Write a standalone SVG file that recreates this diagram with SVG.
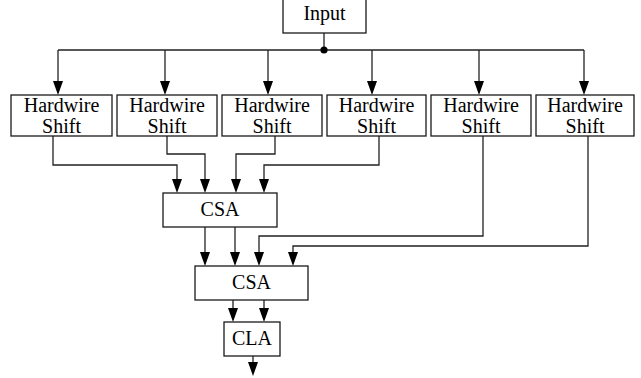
<svg xmlns="http://www.w3.org/2000/svg" width="641" height="378" viewBox="0 0 641 378">
  <style>
    .box { fill: #fff; stroke: #1a1a1a; stroke-width: 1.3; }
    .lbl { font-family: "Liberation Serif", "Times New Roman", serif; font-size: 20px; fill: #000; text-anchor: middle; }
    .wire { fill: none; stroke: #222; stroke-width: 1.3; }
    .arr { marker-end: url(#head); }
  </style>
  <defs>
    <marker id="head" markerUnits="userSpaceOnUse" markerWidth="12" markerHeight="16" viewBox="0 0 12 16" refX="6" refY="15" orient="auto-start-reverse">
      <path d="M1,1 L11,1 L6,15 Z" fill="#000" transform="rotate(0)"/>
    </marker>
  </defs>
  <rect width="641" height="378" fill="#fff"/>

  <!-- connectors -->
  <g id="connectors">
    <!-- input fan-out bus -->
    <path class="wire" d="M324,33 V50 M58,50 H584"/>
    <circle cx="324" cy="50" r="3.6" fill="#000"/>
    <path class="wire" d="M58,50 V81"/>
    <path class="wire" d="M165,50 V81"/>
    <path class="wire" d="M268,50 V81"/>
    <path class="wire" d="M372,50 V81"/>
    <path class="wire" d="M479,50 V81"/>
    <path class="wire" d="M584,50 V81"/>
    <path d="M53,81 L63,81 L58,95 Z M160,81 L170,81 L165,95 Z M263,81 L273,81 L268,95 Z M367,81 L377,81 L372,95 Z M474,81 L484,81 L479,95 Z M579,81 L589,81 L584,95 Z" fill="#000"/>

    <!-- shifters into first CSA -->
    <path class="wire" d="M53,136 V165 H177 V179"/>
    <path class="wire" d="M167,136 V154 H205 V179"/>
    <path class="wire" d="M275,136 V154 H236 V179"/>
    <path class="wire" d="M379,136 V165 H264 V179"/>
    <path d="M172,179 L182,179 L177,193 Z M200,179 L210,179 L205,193 Z M231,179 L241,179 L236,193 Z M259,179 L269,179 L264,193 Z" fill="#000"/>

    <!-- into second CSA -->
    <path class="wire" d="M205,227 V252"/>
    <path class="wire" d="M235,227 V252"/>
    <path class="wire" d="M483,136 V236 H259 V252"/>
    <path class="wire" d="M588,136 V246 H293 V252"/>
    <path d="M200,252 L210,252 L205,266 Z M230,252 L240,252 L235,266 Z M254,252 L264,252 L259,266 Z M288,252 L298,252 L293,266 Z" fill="#000"/>

    <!-- into CLA -->
    <path class="wire" d="M233,300 V308"/>
    <path class="wire" d="M264,300 V308"/>
    <path d="M228,308 L238,308 L233,322 Z M259,308 L269,308 L264,322 Z" fill="#000"/>

    <!-- result -->
    <path class="wire" d="M253,356 V363"/>
    <path d="M248,362 L258,362 L253,376 Z" fill="#000"/>
  </g>

  <g id="input">
    <rect class="box" x="283" y="-5" width="83" height="38"/>
    <text class="lbl" x="324.5" y="20">Input</text>
  </g>

  <g id="shift1">
    <rect class="box" x="11" y="95" width="101" height="41"/>
    <text class="lbl" x="61.5" y="112">Hardwire</text>
    <text class="lbl" x="61.5" y="133">Shift</text>
  </g>
  <g id="shift2">
    <rect class="box" x="117" y="95" width="100" height="41"/>
    <text class="lbl" x="167" y="112">Hardwire</text>
    <text class="lbl" x="167" y="133">Shift</text>
  </g>
  <g id="shift3">
    <rect class="box" x="222" y="95" width="100" height="41"/>
    <text class="lbl" x="272" y="112">Hardwire</text>
    <text class="lbl" x="272" y="133">Shift</text>
  </g>
  <g id="shift4">
    <rect class="box" x="327" y="95" width="99" height="41"/>
    <text class="lbl" x="376.5" y="112">Hardwire</text>
    <text class="lbl" x="376.5" y="133">Shift</text>
  </g>
  <g id="shift5">
    <rect class="box" x="431" y="95" width="100" height="41"/>
    <text class="lbl" x="481" y="112">Hardwire</text>
    <text class="lbl" x="481" y="133">Shift</text>
  </g>
  <g id="shift6">
    <rect class="box" x="536" y="95" width="98" height="41"/>
    <text class="lbl" x="585" y="112">Hardwire</text>
    <text class="lbl" x="585" y="133">Shift</text>
  </g>

  <g id="csa1">
    <rect class="box" x="163" y="193" width="114" height="34"/>
    <text class="lbl" x="220" y="216">CSA</text>
  </g>
  <g id="csa2">
    <rect class="box" x="195" y="266" width="113" height="34"/>
    <text class="lbl" x="251.5" y="289">CSA</text>
  </g>
  <g id="cla">
    <rect class="box" x="224" y="322" width="56" height="34"/>
    <text class="lbl" x="252" y="345">CLA</text>
  </g>
</svg>
